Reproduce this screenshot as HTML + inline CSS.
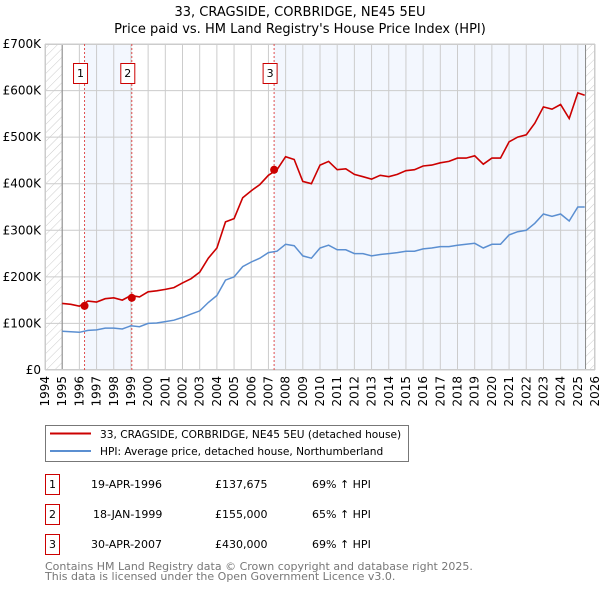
<!DOCTYPE html>
<html><head><meta charset="utf-8"><style>
body{margin:0;background:#fff;}
svg{display:block;font-family:"DejaVu Sans","Liberation Sans",sans-serif;}
</style></head><body>
<svg id="c" width="600" height="590" xmlns="http://www.w3.org/2000/svg">
<defs><pattern id="hatch" width="6" height="6" patternUnits="userSpaceOnUse" patternTransform="rotate(45)"><line x1="0" y1="0" x2="0" y2="6" stroke="#ccc" stroke-width="1"/></pattern></defs>
<text x="300" y="16" text-anchor="middle" font-size="13" fill="#000">33, CRAGSIDE, CORBRIDGE, NE45 5EU</text>
<text x="300" y="33" text-anchor="middle" font-size="13" fill="#000">Price paid vs. HM Land Registry's House Price Index (HPI)</text>
<g id="plot"></g>
<g>
<rect x="45.5" y="425.5" width="363" height="36" fill="#fff" stroke="#777"/>
<line x1="50" y1="433.5" x2="91" y2="433.5" stroke="#cc0000" stroke-width="2"/>
<text x="100" y="438" font-size="10.6">33, CRAGSIDE, CORBRIDGE, NE45 5EU (detached house)</text>
<line x1="50" y1="451" x2="91" y2="451" stroke="#5b8fd1" stroke-width="2"/>
<text x="100" y="455" font-size="10.6">HPI: Average price, detached house, Northumberland</text>
</g>
<g id="table" font-size="11"></g>
<text x="45" y="570" font-size="11" fill="#777">Contains HM Land Registry data © Crown copyright and database right 2025.</text>
<text x="45" y="580" font-size="11" fill="#777">This data is licensed under the Open Government Licence v3.0.</text>
</svg>
<script>
const times=[1995,1995.5,1996,1996.5,1997,1997.5,1998,1998.5,1999,1999.5,2000,2000.5,2001,2001.5,2002,2002.5,2003,2003.5,2004,2004.5,2005,2005.5,2006,2006.5,2007,2007.5,2008,2008.5,2009,2009.5,2010,2010.5,2011,2011.5,2012,2012.5,2013,2013.5,2014,2014.5,2015,2015.5,2016,2016.5,2017,2017.5,2018,2018.5,2019,2019.5,2020,2020.5,2021,2021.5,2022,2022.5,2023,2023.5,2024,2024.5,2025,2025.4];
const hpiValues=[83,82,81,85,86,90,90,88,95,93,100,101,104,107,113,120,127,145,160,193,200,222,232,240,252,255,270,267,245,240,262,268,258,258,250,250,245,248,250,252,255,255,260,262,265,265,268,270,272,262,270,270,290,297,300,315,335,330,335,320,350,350];
const propValues=[143,141,137,148,146,153,155,150,160,157,168,170,173,177,187,196,210,240,262,318,325,370,385,398,418,430,458,452,405,400,440,448,430,432,420,415,410,418,415,420,428,430,438,440,445,448,455,455,460,442,455,455,490,500,505,530,565,560,570,540,595,590];
const saleTimes=[1996.3,1999.05,2007.33];
const salePrices=[137675,155000,430000];
const saleDates=["19-APR-1996","18-JAN-1999","30-APR-2007"];
const salePriceLabels=["£137,675","£155,000","£430,000"];
const saleHpi=["69% ↑ HPI","65% ↑ HPI","69% ↑ HPI"];
const yTicks=[0,100000,200000,300000,400000,500000,600000,700000];
const yTickLabels=["£0","£100K","£200K","£300K","£400K","£500K","£600K","£700K"];
const xYears=[1994,1995,1996,1997,1998,1999,2000,2001,2002,2003,2004,2005,2006,2007,2008,2009,2010,2011,2012,2013,2014,2015,2016,2017,2018,2019,2020,2021,2022,2023,2024,2025,2026];

const NS="http://www.w3.org/2000/svg";
const L=45,R=595,T=44,B=370;
const X=t=>L+(t-1994)/(2026-1994)*(R-L);
const Y=v=>B-v/700000*(B-T);
const plot=document.getElementById('plot');
function mk(tag,at,parent){const e=document.createElementNS(NS,tag);for(const k in at)e.setAttribute(k,at[k]);(parent||plot).appendChild(e);return e;}
let e;
e=mk('rect',{x:L,y:T,width:R-L,height:B-T,fill:'#fff'});


e=mk('rect',{x:X(saleTimes[0]),y:T,width:X(saleTimes[1])-X(saleTimes[0]),height:B-T,fill:'#f3f7fe'});


e=mk('rect',{x:X(saleTimes[2]),y:T,width:X(2025.45)-X(saleTimes[2]),height:B-T,fill:'#f3f7fe'});


e=mk('rect',{x:L,y:T,width:X(1995)-L,height:B-T,fill:'url(#hatch)'});


e=mk('rect',{x:X(2025.45),y:T,width:R-X(2025.45),height:B-T,fill:'url(#hatch)'});


xYears.forEach(y=>{
 const x=X(y);
 e=mk('line',{x1:x,y1:T,x2:x,y2:B,stroke:'#ccc','stroke-width':1});
 
 
 e=mk('text',{x:0,y:0,'font-size':12,'text-anchor':'end',transform:`translate(${x+4},${B+6}) rotate(-90)`});
 e.textContent=y;
 
 
});
yTicks.forEach((v,i)=>{
 const y=Y(v);
 e=mk('line',{x1:L,y1:y,x2:R,y2:y,stroke:'#ccc','stroke-width':1});
 
 
 e=mk('text',{x:L-4,y:y+4,'font-size':12,'text-anchor':'end'});
 e.textContent=yTickLabels[i];
 
 
});
e=mk('line',{x1:X(1995),y1:T,x2:X(1995),y2:B,stroke:'#888'});


e=mk('line',{x1:X(2025.45),y1:T,x2:X(2025.45),y2:B,stroke:'#888'});


e=mk('rect',{x:L+0.5,y:T+0.5,width:R-L-1,height:B-T-1,fill:'none',stroke:'#ccc'});


saleTimes.forEach((t,i)=>{
 const x=X(t);
 e=mk('line',{x1:x,y1:T,x2:x,y2:B,stroke:'#e05050','stroke-dasharray':'2,2'});
 
 
 e=mk('rect',{x:x-11,y:63.5,width:14,height:20,fill:'#fff',stroke:'#cc0000'});
 
 
 e=mk('text',{x:x-4,y:77,'font-size':11,'text-anchor':'middle'});
 e.textContent=i+1;
 
 
});
const pts=(vals)=>times.map((t,i)=>X(t).toFixed(1)+','+Y(vals[i]*1000).toFixed(1)).join(' ');
e=mk('polyline',{points:pts(hpiValues),fill:'none',stroke:'#5b8fd1','stroke-width':1.5});


e=mk('polyline',{points:pts(propValues),fill:'none',stroke:'#cc0000','stroke-width':1.6});


saleTimes.forEach((t,i)=>{
 e=mk('circle',{cx:X(t),cy:Y(salePrices[i]),r:4,fill:'#cc0000'});
 
 
});
const tb=document.getElementById('table');
saleDates.forEach((d,i)=>{
 const y=484+i*30;
 e=mk('rect',{x:45.5,y:y-9.5,width:14,height:20,fill:'#fff',stroke:'#cc0000'},tb);
 
 
 e=mk('text',{x:52.5,y:y+4,'text-anchor':'middle'},tb);e.textContent=i+1;
 
 
 e=mk('text',{x:91+(i==1?2:0),y:y+4},tb);e.textContent=d;
 
 
 e=mk('text',{x:215,y:y+4},tb);e.textContent=salePriceLabels[i];
 
 
 e=mk('text',{x:312,y:y+4},tb);e.textContent=saleHpi[i];
 
 
});
</script>
</body></html>
